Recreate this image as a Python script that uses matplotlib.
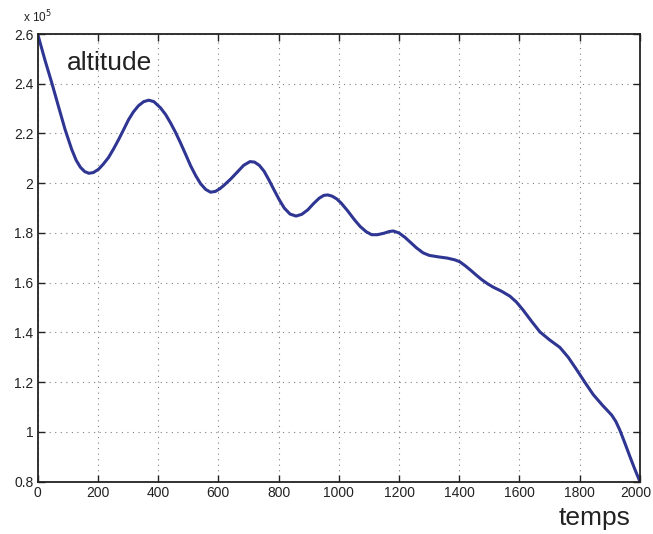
import matplotlib
matplotlib.use("Agg")
import matplotlib.pyplot as plt
import matplotlib.transforms as mtransforms
from matplotlib.ticker import FuncFormatter
import numpy as np

plt.rcParams['font.family'] = ['Liberation Sans', 'DejaVu Sans']

# altitude (in units of 1e5) against time
temps = [0, 24, 47, 69, 91, 113, 128, 142, 156, 170, 185, 202, 218, 235,
         252, 269, 286, 302, 318, 335, 352, 369, 386, 408, 425, 441, 458,
         474, 491, 508, 525, 541, 558, 574, 590, 605, 619, 641, 663, 684,
         705, 720, 736, 752, 768, 785, 802, 819, 838, 858, 877, 897, 916,
         935, 950, 963, 978, 993, 1008, 1030, 1052, 1071, 1091, 1109, 1128,
         1150, 1168, 1181, 1200, 1220, 1240, 1258, 1280, 1300, 1330, 1360,
         1385, 1402, 1420, 1440, 1457, 1475, 1495, 1513, 1540, 1568, 1590,
         1612, 1640, 1668, 1700, 1734, 1762, 1790, 1818, 1845, 1875, 1906,
         1920, 1933, 1950, 1967, 1983, 2000]
altitude = [2.600, 2.496, 2.403, 2.309, 2.216, 2.136, 2.092, 2.064, 2.047,
            2.040, 2.043, 2.056, 2.077, 2.103, 2.138, 2.176, 2.217, 2.256,
            2.287, 2.312, 2.328, 2.334, 2.328, 2.303, 2.276, 2.243, 2.204,
            2.163, 2.117, 2.070, 2.030, 1.998, 1.975, 1.964, 1.967, 1.978,
            1.992, 2.017, 2.045, 2.072, 2.087, 2.085, 2.072, 2.048, 2.013,
            1.973, 1.934, 1.900, 1.876, 1.868, 1.875, 1.893, 1.918, 1.940,
            1.951, 1.953, 1.948, 1.937, 1.920, 1.888, 1.853, 1.826, 1.805,
            1.793, 1.793, 1.799, 1.806, 1.808, 1.800, 1.782, 1.760, 1.740,
            1.720, 1.710, 1.704, 1.699, 1.692, 1.684, 1.668, 1.648, 1.630,
            1.612, 1.595, 1.582, 1.566, 1.546, 1.522, 1.490, 1.445, 1.402,
            1.370, 1.340, 1.300, 1.250, 1.198, 1.150, 1.108, 1.068, 1.042,
            1.008, 0.955, 0.900, 0.850, 0.800]

x_ticks = np.arange(0, 2001, 200)
y_ticks = np.arange(0.8, 2.61, 0.2)

fig = plt.figure(figsize=(6.53, 5.34), dpi=100)
ax = fig.add_axes([0.0577, 0.098, 0.9223, 0.8383])

ax.plot(temps, altitude, color='#2e3592', lw=2.2, solid_joinstyle='round')

ax.set_xlim(0, 2000)
ax.set_ylim(0.8, 2.6)
ax.set_xticks(x_ticks)
ax.set_yticks(y_ticks)
ax.yaxis.set_major_formatter(FuncFormatter(lambda v, _: f"{v:g}"))
ax.grid(True, color='#808080', linestyle=(0, (1, 4)), linewidth=0.8)
ax.tick_params(direction='in', length=5, width=1, top=True, right=True,
               labelsize=10, colors='#222222', pad=3)
for s in ax.spines.values():
    s.set_linewidth(1.3)
    s.set_color('#222222')

# nudge the last x label so it stays inside the figure
last = ax.get_xticklabels()[-1]
last.set_transform(last.get_transform() +
                   mtransforms.ScaledTranslation(-3 / 72, 0, fig.dpi_scale_trans))

fig.text(0.057, 0.968, r"x 10$^5$", fontsize=8.5, ha='center', va='center',
         color='#222222')
ax.text(0.048, 0.935, "altitude", transform=ax.transAxes, fontsize=19,
        ha='left', va='center', color='#222222')
fig.text(0.965, 0.030, "temps", fontsize=19, ha='right', va='center',
         color='#222222')

fig.savefig("out.png", dpi=100)
